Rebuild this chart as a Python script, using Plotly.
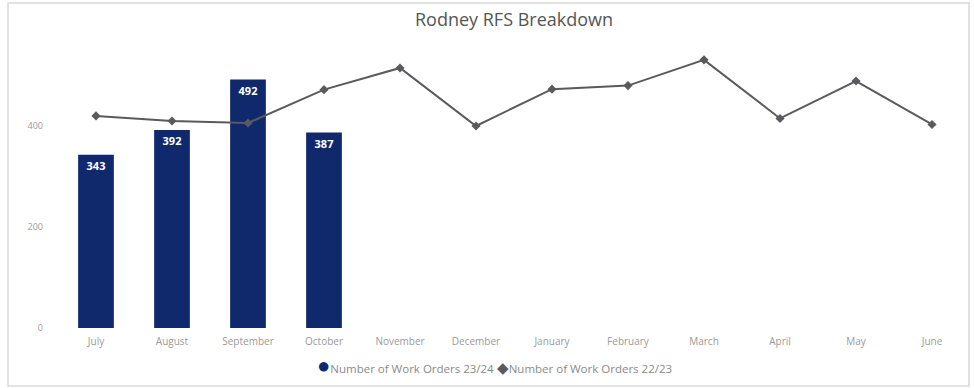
import plotly.graph_objects as go

months = ["July", "August", "September", "October", "November", "December",
          "January", "February", "March", "April", "May", "June"]
orders_2324 = [343, 392, 492, 387]
orders_2223 = [420, 410, 406, 472, 515, 400, 473, 480, 531, 415, 489, 403]
y_ticks = [0, 200, 400]
series_names = ["Number of Work Orders 23/24", "Number of Work Orders 22/23"]

BAR_COLOR = "#10296c"
LINE_COLOR = "#5a5a5e"

W, H = 974, 388
L, R, T, B = 58, 4, 40, 60

fig = go.Figure()

fig.add_trace(go.Bar(
    x=months[:len(orders_2324)],
    y=orders_2324,
    name=series_names[0],
    marker=dict(color=BAR_COLOR, line=dict(width=0)),
    width=0.47,
    text=[str(v) for v in orders_2324],
    textposition="inside",
    insidetextanchor="end",
    textfont=dict(color="white", size=11, family="Open Sans"),
    texttemplate="<b>%{text}</b>",
    showlegend=False,
))

fig.add_trace(go.Scatter(
    x=months,
    y=orders_2223,
    name=series_names[1],
    mode="lines+markers",
    line=dict(color=LINE_COLOR, width=2),
    marker=dict(symbol="diamond", size=7, color=LINE_COLOR),
    showlegend=False,
))

pw = W - L - R
ph = H - T - B


def px_x(p):
    return (p - L) / pw


def px_y(p):
    return (H - B - p) / ph


# light card border around the visual
fig.add_shape(type="rect", xref="paper", yref="paper",
              x0=px_x(8), x1=px_x(969), y0=px_y(386), y1=px_y(3),
              line=dict(color="#d9d9d9", width=1.5), fillcolor="rgba(0,0,0,0)",
              layer="below")

# compact legend with circle / diamond keys
legend_text = (
    f"<span style='color:{BAR_COLOR};font-size:22px'>●</span>{series_names[0]} "
    f"<span style='color:{LINE_COLOR};font-size:15px'>◆</span>{series_names[1]}"
)
fig.add_annotation(xref="paper", yref="paper", x=px_x(494), y=px_y(364),
                   xanchor="center", yanchor="middle", showarrow=False,
                   text=legend_text,
                   font=dict(size=11.5, color="#8a8a8a", family="Open Sans"))

fig.update_layout(
    width=W, height=H,
    margin=dict(l=L, r=R, t=T, b=B),
    paper_bgcolor="white",
    plot_bgcolor="white",
    title=dict(text="Rodney RFS Breakdown", x=0.5, xref="paper",
               y=1 - 20 / H, yanchor="middle", xanchor="center",
               font=dict(size=18, color="#555555", family="Open Sans")),
    font=dict(family="Open Sans", color="#999999"),
    showlegend=False,
    bargap=0.5,
)

fig.update_xaxes(type="category", categoryorder="array", categoryarray=months,
                 showgrid=False, showline=False, zeroline=False, ticks="",
                 tickfont=dict(size=10, color="#9a9a9a"), range=[-0.5, 11.5],
                 ticklabelstandoff=6)
fig.update_yaxes(range=[0, ph * 200 / 101], tickvals=y_ticks,
                 showgrid=False, showline=False, zeroline=False, ticks="",
                 tickfont=dict(size=9, color="#9a9a9a"), ticklabelstandoff=14)

fig.write_html("out.html")
